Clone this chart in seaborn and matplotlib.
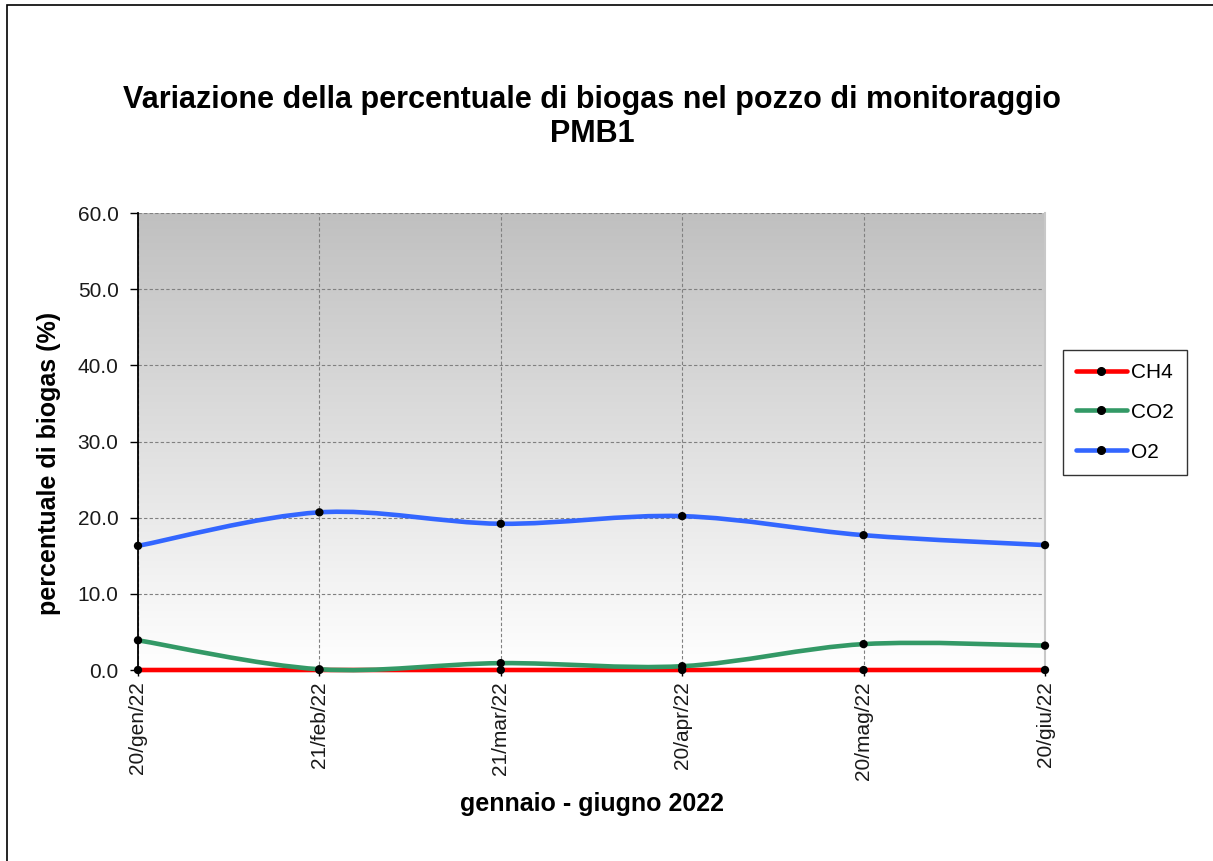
import numpy as np
import pandas as pd
import matplotlib
matplotlib.use("Agg")
import matplotlib.pyplot as plt
import seaborn as sns
from matplotlib.path import Path
from matplotlib.patches import PathPatch, Rectangle
from matplotlib.lines import Line2D

dates = ["20/gen/22", "21/feb/22", "21/mar/22", "20/apr/22", "20/mag/22", "20/giu/22"]
ch4 = [0.0, 0.0, 0.0, 0.0, 0.0, 0.0]
co2 = [3.9, 0.1, 0.9, 0.5, 3.4, 3.2]
o2 = [16.3, 20.7, 19.2, 20.2, 17.7, 16.4]
yticks = [0.0, 10.0, 20.0, 30.0, 40.0, 50.0, 60.0]

series_names = ["CH4", "CO2", "O2"]
colors = {"CH4": "#ff0000", "CO2": "#339966", "O2": "#3366ff"}

sns.set_theme(style="white")
plt.rcParams["font.family"] = ["Liberation Sans", "DejaVu Sans"]
plt.rcParams["text.color"] = "black"

df = pd.DataFrame({
    "pos": list(range(len(dates))) * 3,
    "val": ch4 + co2 + o2,
    "serie": ["CH4"] * 6 + ["CO2"] * 6 + ["O2"] * 6,
})

fig = plt.figure(figsize=(12.13, 8.61), dpi=100)
# outer frame
fig.patches.append(Rectangle((7 / 1213, -0.01), 1.02, 1 - 5 / 861 + 0.01, transform=fig.transFigure,
                             fill=False, edgecolor="black", linewidth=1.2, zorder=0))

ax = fig.add_axes([138 / 1213, 1 - 670 / 861, (1045 - 138) / 1213, (670 - 213) / 861])

# gradient background
grad = np.linspace(1, 0, 256).reshape(-1, 1)
cmap = matplotlib.colors.LinearSegmentedColormap.from_list("g", ["#ffffff", "#c0c0c0"])
ax.imshow(grad, aspect="auto", cmap=cmap, extent=[0, 1, 0, 1], transform=ax.transAxes,
          origin="upper", zorder=0, vmin=0, vmax=1)
ax.set_xlim(0, len(dates) - 1)
ax.set_ylim(0, 60)


def smooth_path(xs, ys):
    pts = np.column_stack([xs, ys]).astype(float)
    n = len(pts)
    verts = [pts[0]]
    codes = [Path.MOVETO]
    for i in range(n - 1):
        p0 = pts[i - 1] if i > 0 else pts[i]
        p1 = pts[i]
        p2 = pts[i + 1]
        p3 = pts[i + 2] if i + 2 < n else pts[i + 1]
        c1 = p1 + (p2 - p0) / 6.0
        c2 = p2 - (p3 - p1) / 6.0
        verts += [c1, c2, p2]
        codes += [Path.CURVE4] * 3
    return Path(verts, codes)


for name in series_names:
    sub = df[df["serie"] == name]
    patch = PathPatch(smooth_path(sub["pos"].values, sub["val"].values), facecolor="none",
                      edgecolor=colors[name], linewidth=3.3, zorder=3, capstyle="round",
                      clip_on=False)
    ax.add_patch(patch)

sns.scatterplot(data=df, x="pos", y="val", color="black", s=36, edgecolor="none",
                ax=ax, zorder=5, legend=False, clip_on=False)

ax.set_xticks(range(len(dates)))
ax.set_xticklabels(dates, rotation=90, fontsize=15, color="#1a1a1a")
ax.set_yticks(yticks)
ax.set_yticklabels([f"{v:.1f}" for v in yticks], fontsize=15, color="#1a1a1a")
ax.tick_params(axis="y", direction="out", length=6, width=1, color="black", pad=8, left=True)
ax.tick_params(axis="x", direction="out", length=4, width=1, color="black", pad=4, bottom=True)

ax.set_axisbelow(True)
ax.grid(True, linestyle=(0, (3, 2)), color="#808080", linewidth=0.8)

ax.spines["top"].set_visible(False)
ax.spines["left"].set_color("black")
ax.spines["left"].set_linewidth(1.3)
ax.spines["bottom"].set_color("black")
ax.spines["bottom"].set_linewidth(1.0)
ax.spines["right"].set_color("#c8c8c8")
ax.spines["right"].set_linewidth(1.5)

ax.set_xlabel("gennaio - giugno 2022", fontsize=18, fontweight="bold", labelpad=9, color="black")
ax.set_ylabel("percentuale di biogas (%)", fontsize=18, fontweight="bold", color="black")
ax.yaxis.set_label_coords(-0.085, 0.453)

fig.text(592 / 1213, 1 - 117 / 861, "Variazione della percentuale di biogas nel pozzo di monitoraggio\nPMB1",
         ha="center", va="center", fontsize=22, fontweight="bold", linespacing=1.15, color="black")

handles = [Line2D([0], [0], color=colors[n], linewidth=3.3, marker="o", markersize=5.5,
                  markerfacecolor="black", markeredgecolor="black") for n in series_names]
leg = fig.legend(handles, series_names, loc="upper left",
                 bbox_to_anchor=(1063 / 1213, 1 - 350 / 861), frameon=True, fontsize=15,
                 handlelength=2.45, handletextpad=0.2, labelspacing=1.0, borderpad=0.62,
                 borderaxespad=0, fancybox=False, edgecolor="black")
leg.get_frame().set_linewidth(1.0)
for t in leg.get_texts():
    t.set_color("black")

fig.savefig("out.png", dpi=100)
